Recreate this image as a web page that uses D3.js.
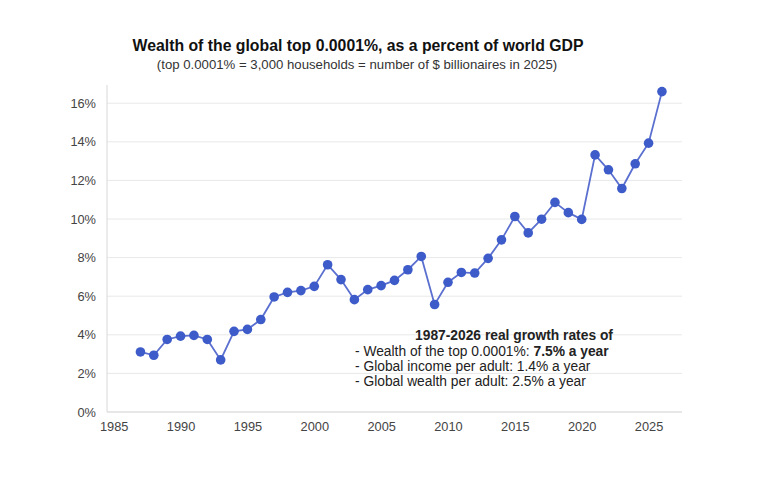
<!DOCTYPE html>
<html lang="en">
<head>
    <meta charset="UTF-8">
    <script src="https://cdnjs.cloudflare.com/ajax/libs/d3/7.9.0/d3.min.js"></script>
    <title>Wealth of the global top 0.0001%</title>
    <style>
        body {
            margin: 0;
            background-color: white;
            font-family: Arial, "Liberation Sans", sans-serif;
        }
        svg {
            display: block;
        }
    </style>
</head>
<body>
    <div id="chart"></div>
    <script>
        const width = 759;
        const height = 481;
        const margin = { top: 85, right: 77, bottom: 69, left: 107 };

        // Data
        const years = [1987, 1988, 1989, 1990, 1991, 1992, 1993, 1994, 1995, 1996,
            1997, 1998, 1999, 2000, 2001, 2002, 2003, 2004, 2005, 2006,
            2007, 2008, 2009, 2010, 2011, 2012, 2013, 2014, 2015, 2016,
            2017, 2018, 2019, 2020, 2021, 2022, 2023, 2024, 2025, 2026];
        const wealthShare = [3.11, 2.94, 3.76, 3.93, 3.97, 3.76, 2.70, 4.18, 4.28, 4.79,
            5.96, 6.20, 6.29, 6.51, 7.63, 6.86, 5.82, 6.34, 6.55, 6.82,
            7.37, 8.06, 5.57, 6.72, 7.23, 7.20, 7.96, 8.92, 10.13, 9.28,
            9.99, 10.86, 10.33, 9.98, 13.32, 12.55, 11.58, 12.86, 13.93, 16.60];
        const yTicks = [0, 2, 4, 6, 8, 10, 12, 14, 16];
        const xTicks = [1985, 1990, 1995, 2000, 2005, 2010, 2015, 2020, 2025];

        const title = "Wealth of the global top 0.0001%, as a percent of world GDP";
        const subtitle = "(top 0.0001% = 3,000 households = number of $ billionaires in 2025)";
        const noteHead = "1987-2026 real growth rates of";
        const noteLines = [
            ["- Wealth of the top 0.0001%: ", "7.5% a year"],
            ["- Global income per adult: 1.4% a year", ""],
            ["- Global wealth per adult: 2.5% a year", ""]
        ];

        const data = years.map((y, i) => ({ year: y, value: wealthShare[i] }));

        const svg = d3.select("#chart")
            .append("svg")
            .attr("width", width)
            .attr("height", height);

        const x = d3.scaleLinear()
            .domain([1984.5, 2027.5])
            .range([margin.left, width - margin.right]);

        const y = d3.scaleLinear()
            .domain([0, 16])
            .range([height - margin.bottom, height - margin.bottom - 16 * 19.3]);

        // Titles
        svg.append("text")
            .attr("x", 358)
            .attr("y", 51)
            .attr("text-anchor", "middle")
            .attr("font-size", "15.8px")
            .attr("font-weight", "bold")
            .attr("fill", "#111")
            .text(title);

        svg.append("text")
            .attr("x", 357)
            .attr("y", 69)
            .attr("text-anchor", "middle")
            .attr("font-size", "13.2px")
            .attr("fill", "#333")
            .text(subtitle);

        // Gridlines
        svg.append("g")
            .selectAll("line")
            .data(yTicks)
            .enter()
            .append("line")
            .attr("x1", margin.left)
            .attr("x2", width - margin.right)
            .attr("y1", d => y(d))
            .attr("y2", d => y(d))
            .attr("stroke", d => d === 0 ? "#cfcfcf" : "#e8e8e8")
            .attr("stroke-width", 1);

        // Left axis line
        svg.append("line")
            .attr("x1", margin.left)
            .attr("x2", margin.left)
            .attr("y1", margin.top)
            .attr("y2", y(0))
            .attr("stroke", "#d8d8d8");

        // Y axis labels
        const yAxis = d3.axisLeft(y)
            .tickValues(yTicks)
            .tickFormat(d => d + "%")
            .tickSize(0)
            .tickPadding(11);

        svg.append("g")
            .attr("transform", `translate(${margin.left},0)`)
            .call(yAxis)
            .call(g => g.select(".domain").remove())
            .call(g => g.selectAll("text")
                .attr("font-size", "12.8px")
                .attr("font-family", "Arial, 'Liberation Sans', sans-serif")
                .attr("fill", "#444"));

        // X axis labels
        const xAxis = d3.axisBottom(x)
            .tickValues(xTicks)
            .tickFormat(d3.format("d"))
            .tickSize(0)
            .tickPadding(10);

        svg.append("g")
            .attr("transform", `translate(0,${y(0)})`)
            .call(xAxis)
            .call(g => g.select(".domain").remove())
            .call(g => g.selectAll("text")
                .attr("font-size", "12.8px")
                .attr("font-family", "Arial, 'Liberation Sans', sans-serif")
                .attr("fill", "#444"));

        // Line
        const line = d3.line()
            .x(d => x(d.year))
            .y(d => y(d.value));

        svg.append("path")
            .datum(data)
            .attr("fill", "none")
            .attr("stroke", "#5a6fcf")
            .attr("stroke-width", 1.8)
            .attr("d", line);

        // Points
        svg.selectAll(".dot")
            .data(data)
            .enter()
            .append("circle")
            .attr("class", "dot")
            .attr("cx", d => x(d.year))
            .attr("cy", d => y(d.value))
            .attr("r", 4.8)
            .attr("fill", "#3d5bc9");

        // Annotation
        const note = svg.append("g").attr("font-size", "13.8px").attr("fill", "#222");

        note.append("text")
            .attr("x", 514)
            .attr("y", 340)
            .attr("text-anchor", "middle")
            .attr("font-weight", "bold")
            .text(noteHead);

        noteLines.forEach((parts, i) => {
            const t = note.append("text")
                .attr("x", 355)
                .attr("y", 356 + i * 15);
            t.append("tspan").text(parts[0]);
            if (parts[1]) {
                t.append("tspan").attr("font-weight", "bold").text(parts[1]);
            }
        });
    </script>
</body>
</html>
